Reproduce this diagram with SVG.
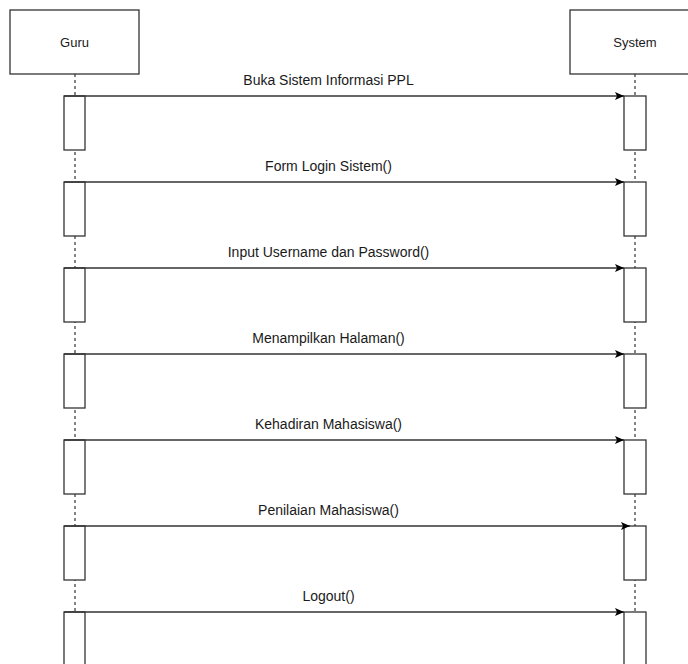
<svg xmlns="http://www.w3.org/2000/svg" width="688" height="664" viewBox="0 0 688 664">
<style>
.box{fill:#fff;stroke:#333;stroke-width:1.3}
.life{stroke:#333;stroke-width:1.2;stroke-dasharray:3 3;fill:none}
.act{fill:#fff;stroke:#333;stroke-width:1.3}
.msg{stroke:#333;stroke-width:1.3;fill:none;marker-end:url(#arr)}
.lbl{font-family:"Liberation Sans",Arial,sans-serif;font-size:14px;fill:#1a1a1a;text-anchor:middle}
.pt{font-family:"Liberation Sans",Arial,sans-serif;font-size:13px;fill:#1a1a1a;text-anchor:middle}
</style>
<defs>
<marker id="arr" markerWidth="10" markerHeight="8" refX="9" refY="4" orient="auto" markerUnits="userSpaceOnUse">
<path d="M0,0 L9,4 L0,8 L2,4 Z" fill="#000"/>
</marker>
</defs>
<rect width="688" height="664" fill="#fff"/>
<g id="lifelines">
<line class="life" x1="75" y1="74" x2="75" y2="664"/>
<line class="life" x1="635" y1="74" x2="635" y2="664"/>
</g>
<g id="guru">
<rect class="box" x="10" y="10" width="129" height="64"/>
<text class="pt" x="74.5" y="47">Guru</text>
</g>
<g id="system">
<rect class="box" x="570" y="10" width="130" height="64"/>
<text class="pt" x="635" y="47">System</text>
</g>
<g id="guru-activations">
<rect class="act" x="64" y="96" width="21" height="54"/>
<rect class="act" x="64" y="182" width="21" height="54"/>
<rect class="act" x="64" y="268" width="21" height="54"/>
<rect class="act" x="64" y="354" width="21" height="54"/>
<rect class="act" x="64" y="440" width="21" height="54"/>
<rect class="act" x="64" y="526" width="21" height="54"/>
<rect class="act" x="64" y="612" width="21" height="60"/>
</g>
<g id="system-activations">
<rect class="act" x="624" y="96" width="22" height="54"/>
<rect class="act" x="624" y="182" width="22" height="54"/>
<rect class="act" x="624" y="268" width="22" height="54"/>
<rect class="act" x="624" y="354" width="22" height="54"/>
<rect class="act" x="624" y="440" width="22" height="54"/>
<rect class="act" x="624" y="526" width="22" height="54"/>
<rect class="act" x="624" y="612" width="22" height="60"/>
</g>
<g id="connectors">
<line class="msg" x1="64" y1="96" x2="624" y2="96"/>
<line class="msg" x1="64" y1="182" x2="624" y2="182"/>
<line class="msg" x1="64" y1="268" x2="624" y2="268"/>
<line class="msg" x1="64" y1="354" x2="624" y2="354"/>
<line class="msg" x1="64" y1="440" x2="624" y2="440"/>
<line class="msg" x1="64" y1="526" x2="630" y2="526"/>
<line class="msg" x1="64" y1="612" x2="624" y2="612"/>
</g>
<g id="labels">
<text class="lbl" x="328.5" y="85">Buka Sistem Informasi PPL</text>
<text class="lbl" x="328.5" y="171">Form Login Sistem()</text>
<text class="lbl" x="328.5" y="257">Input Username dan Password()</text>
<text class="lbl" x="328.5" y="343">Menampilkan Halaman()</text>
<text class="lbl" x="328.5" y="429">Kehadiran Mahasiswa()</text>
<text class="lbl" x="328.5" y="515">Penilaian Mahasiswa()</text>
<text class="lbl" x="328.5" y="601">Logout()</text>
</g>
</svg>
